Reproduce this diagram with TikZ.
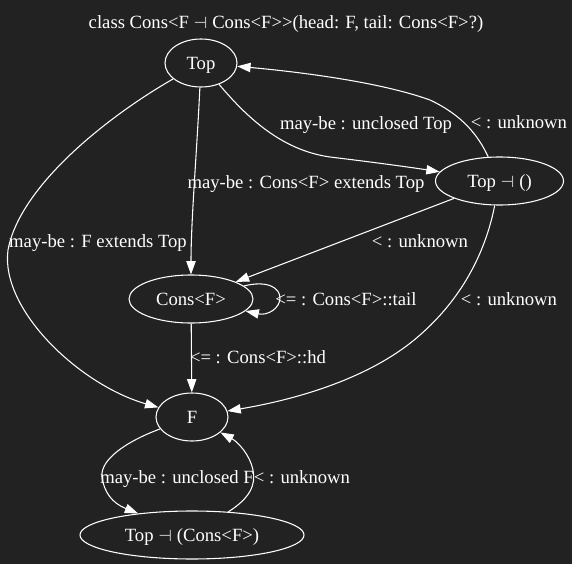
\documentclass[tikz,border=0pt]{standalone}
\usepackage{fontspec}
\setmainfont{Liberation Serif}
\newfontfamily\symfont{DejaVu Sans}
\usetikzlibrary{shapes.geometric,arrows.meta}
\definecolor{bg}{RGB}{34,34,34}
\definecolor{fg}{RGB}{255,255,255}
\newcommand{\lthook}{{\symfont\fontsize{12}{14}\selectfont\color{fg!75!bg}⊣}}
\begin{document}
\begin{tikzpicture}[x=0.75pt,y=-0.75pt,
  every node/.style={font=\fontsize{14}{16}\selectfont, text=fg, text height=9pt, text depth=0pt},
  nd/.style={draw=fg, ellipse, line width=0.8pt, inner sep=0pt, minimum height=36pt},
  lbl/.style={inner sep=0pt},
  edge/.style={draw=fg, line width=0.8pt, -{Triangle[length=10pt,width=7pt]}}]
\fill[bg] (0,0) rectangle (572,564);
\useasboundingbox (0,0) rectangle (572,564);

\node[lbl] (title) at (286,22) {class Cons<F \lthook{} Cons<F>\kern0pt>(head: F, tail: Cons<F>?)};
\node[nd, minimum width=54pt] (top) at (201,63) {Top};
\node[nd, minimum width=96pt] (topu) at (499.5,181) {Top \lthook{} ()};
\node[nd, minimum width=93pt] (cons) at (191,299) {Cons<F>};
\node[nd, minimum width=54pt] (f) at (192,417) {F};
\node[nd, minimum width=168pt] (topc) at (192,535) {Top \lthook{} (Cons<F>)};

\node[lbl] (l1) at (366,123) {may-be : unclosed Top};
\node[lbl] (l2) at (519,122) {< : unknown};
\node[lbl] (l3) at (306,182) {may-be : Cons<F> extends Top};
\node[lbl] (l4) at (98,241) {may-be : F extends Top};
\node[lbl] (l5) at (420,241) {< : unknown};
\node[lbl] (l6) at (509,299) {< : unknown};
\node[lbl] (l7) at (346,299) {<= : Cons<F>::tail};
\node[lbl] (l8) at (258,357) {<= : Cons<F>::hd};
\node[lbl] (l9) at (177,477) {may-be : unclosed F};
\node[lbl] (l10) at (302,477) {< : unknown};

\draw[edge] (top) .. controls (245,115) and (280,150) .. (330,157) .. controls (380,163) and (415,168) .. (topu);
\draw[edge] (topu) .. controls (478,135) and (462,115) .. (430,100) .. controls (380,82) and (300,72) .. (top);
\draw[edge] (top) .. controls (197,150) and (191,220) .. (cons);
\draw[edge] (top) .. controls (110,115) and (20,185) .. (8,250) .. controls (0,310) and (80,385) .. (f);
\draw[edge] (topu) -- (cons);
\draw[edge] (topu) .. controls (485,255) and (460,300) .. (420,335) .. controls (375,375) and (305,398) .. (f);
\draw[edge] (cons) .. controls (268,280) and (280,288) .. (280,298) .. controls (280,308) and (268,316) .. (cons);
\draw[edge] (cons) -- (f);
\draw[edge] (f) .. controls (125,442) and (100,460) .. (102,477) .. controls (104,492) and (112,503) .. (topc);
\draw[edge] (topc) .. controls (250,498) and (256,485) .. (253,470) .. controls (250,455) and (238,442) .. (f);
\end{tikzpicture}
\end{document}
